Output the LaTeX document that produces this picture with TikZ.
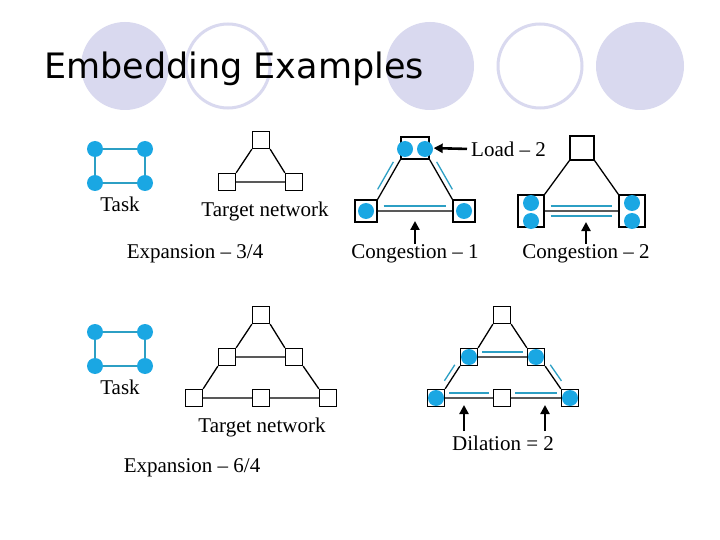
\documentclass[tikz,border=0pt]{standalone}
\usepackage{fontspec}
\setmainfont{Liberation Serif}
\newfontfamily\titlefont{DejaVu Sans}
\usetikzlibrary{arrows.meta}
\definecolor{lav}{HTML}{D9D9EF}
\definecolor{dotb}{HTML}{1AA7E3}
\definecolor{linb}{HTML}{2C9FC4}
\begin{document}
\begin{tikzpicture}[x=1pt,y=-1pt,
  sq/.style={draw,line width=1.3pt,minimum size=17pt,inner sep=0pt},
  dot/.style={circle,fill=dotb,minimum size=16pt,inner sep=0pt},
  lbl/.style={font=\fontsize{21}{23}\selectfont,inner sep=1pt},
  bl/.style={linb,line width=1.3pt},
  ed/.style={line width=1.3pt},
  arr/.style={line width=2.6pt,-{Triangle[length=9pt,width=9pt]}}]
\useasboundingbox[fill=white] (0,0) rectangle (720,540);
% background circles
\fill[lav] (125,66) circle (44);
\draw[lav,line width=3pt] (228,66) circle (42);
\fill[lav] (430,66) circle (44);
\draw[lav,line width=3pt] (540,66) circle (42);
\fill[lav] (640,66) circle (44);
\node[anchor=west,inner sep=0pt,font=\titlefont\fontsize{35}{38}\selectfont] (title) at (44,69) {Embedding Examples};

% Task 1
\node[dot] (a1) at (95,149) {}; \node[dot] (a2) at (145,149) {};
\node[dot] (a3) at (95,183) {}; \node[dot] (a4) at (145,183) {};
\draw[linb,line width=1.5pt] (a1)--(a2) (a3)--(a4) (a1)--(a3) (a2)--(a4);
\node[lbl] (t1) at (120,204) {Task};
% Target network 1
\node[sq] (n1) at (261,140) {}; \node[sq] (n2) at (227,182) {}; \node[sq] (n3) at (294,182) {};
\draw[ed] (n1.south west)--(n2.north east) (n1.south east)--(n3.north west) (n2)--(n3);
\node[lbl] (tn1) at (265,211) {Target network};
\node[lbl] (ex1) at (195,254) {Expansion -- 3/4};

% Load diagram
\node[draw,line width=1.3pt,minimum width=28pt,minimum height=22pt] (l1) at (415,148) {};
\node[sq,minimum size=22pt] (l2) at (366,211) {}; \node[sq,minimum size=22pt] (l3) at (464,211) {};
\node[dot] at (405,149) {}; \node[dot] at (425,149) {};
\node[dot] at (366,211) {}; \node[dot] at (464,211) {};
\draw[ed] (l1.south west)--(l2.north east) (l1.south east)--(l3.north west) (l2)--(l3);
\draw[bl,transform canvas={shift={(-4pt,3pt)}},shorten <=6pt,shorten >=8pt] (l1.south west)--(l2.north east);
\draw[bl,transform canvas={shift={(4pt,3pt)}},shorten <=6pt,shorten >=8pt] (l1.south east)--(l3.north west);
\draw[bl,transform canvas={yshift=5pt},shorten <=6pt,shorten >=6pt] (l2)--(l3);
\node[lbl,anchor=west] (ld) at (470,149) {Load -- 2};
\draw[arr,shorten <=3pt,shorten >=4pt] (ld.west)--(l1.east);
\node[lbl] (c1) at (415,254) {Congestion -- 1};
\coordinate (c1t) at (415,221);
\draw[arr] (c1.north)--(c1t);

% Congestion 2
\node[sq,minimum size=24pt] (k1) at (582,148) {};
\node[draw,line width=1.3pt,minimum width=26pt,minimum height=32pt] (k2) at (531,211) {};
\node[draw,line width=1.3pt,minimum width=26pt,minimum height=32pt] (k3) at (632,211) {};
\node[dot] at (531,203) {}; \node[dot] at (531,221) {};
\node[dot] at (632,203) {}; \node[dot] at (632,221) {};
\draw[ed] (k1.south west)--(k2.north east) (k1.south east)--(k3.north west) (k2)--(k3);
\draw[bl,transform canvas={yshift=-5pt},shorten <=6pt,shorten >=6pt] (k2)--(k3);
\draw[bl,transform canvas={yshift=5pt},shorten <=6pt,shorten >=6pt] (k2)--(k3);
\node[lbl] (c2) at (586,254) {Congestion -- 2};
\coordinate (c2t) at (586,222);
\draw[arr] (c2.north)--(c2t);

% Task 2
\node[dot] (b1) at (95,332) {}; \node[dot] (b2) at (145,332) {};
\node[dot] (b3) at (95,366) {}; \node[dot] (b4) at (145,366) {};
\draw[linb,line width=1.5pt] (b1)--(b2) (b3)--(b4) (b1)--(b3) (b2)--(b4);
\node[lbl] (t2) at (120,387) {Task};
% Target network 2
\node[sq] (m1) at (261,315) {}; \node[sq] (m2) at (227,357) {}; \node[sq] (m3) at (294,357) {};
\node[sq] (m4) at (194,398) {}; \node[sq] (m5) at (261,398) {}; \node[sq] (m6) at (328,398) {};
\draw[ed] (m1.south west)--(m2.north east) (m1.south east)--(m3.north west) (m2)--(m3)
  (m2.south west)--(m4.north east) (m3.south east)--(m6.north west) (m4)--(m5) (m5)--(m6);
\node[lbl] (tn2) at (262,427) {Target network};
\node[lbl] (ex2) at (192,468) {Expansion -- 6/4};

% Dilation
\node[sq] (d1) at (502,315) {}; \node[sq] (d2) at (469,357) {}; \node[sq] (d3) at (536,357) {};
\node[sq] (d4) at (436,398) {}; \node[sq] (d5) at (502,398) {}; \node[sq] (d6) at (570,398) {};
\node[dot] at (469,357) {}; \node[dot] at (536,357) {};
\node[dot] at (436,398) {}; \node[dot] at (570,398) {};
\draw[ed] (d1.south west)--(d2.north east) (d1.south east)--(d3.north west) (d2)--(d3)
  (d2.south west)--(d4.north east) (d3.south east)--(d6.north west) (d4)--(d5) (d5)--(d6);
\draw[bl,transform canvas={yshift=5pt},shorten <=4pt,shorten >=4pt] (d2)--(d3);
\draw[bl,transform canvas={yshift=5pt},shorten <=4pt,shorten >=4pt] (d4)--(d5);
\draw[bl,transform canvas={yshift=5pt},shorten <=4pt,shorten >=4pt] (d5)--(d6);
\draw[bl,transform canvas={shift={(-4pt,3pt)}},shorten <=2pt,shorten >=6pt] (d2.south west)--(d4.north east);
\draw[bl,transform canvas={shift={(4pt,3pt)}},shorten <=2pt,shorten >=6pt] (d3.south east)--(d6.north west);
\node[lbl] (dl) at (503,443) {Dilation = 2};
\coordinate (da1) at (464,431); \coordinate (da1t) at (464,405);
\coordinate (da2) at (545,431); \coordinate (da2t) at (545,405);
\draw[arr] (da1)--(da1t);
\draw[arr] (da2)--(da2t);
\end{tikzpicture}
\end{document}
